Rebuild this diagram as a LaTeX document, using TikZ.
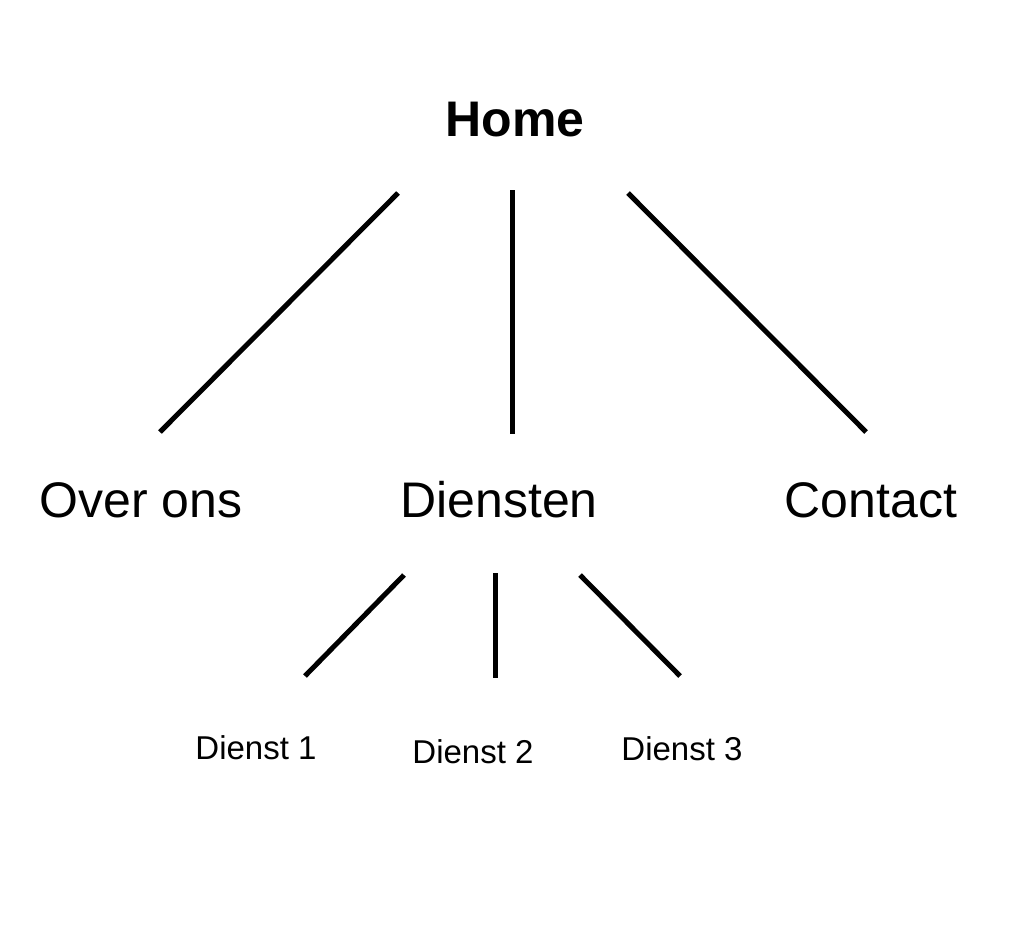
\documentclass[tikz,border=0pt]{standalone}
\usepackage{fontspec}
\setmainfont{Liberation Sans}
\begin{document}
\begin{tikzpicture}[x=1pt,y=-1pt,
  big/.style={font=\fontsize{50}{60}\selectfont, inner sep=0pt},
  small/.style={font=\fontsize{33}{40}\selectfont, inner sep=0pt},
  link/.style={line width=5pt}]
\useasboundingbox (0,0) rectangle (1024,926);
\node[big,font=\fontsize{50}{60}\selectfont\bfseries] (home) at (515,120) {Home};
\node[big] (over) at (141,500) {Over ons};
\node[big] (dien) at (499,500) {Diensten};
\node[big] (cont) at (871,500) {Contact};
\node[small] (d1) at (256,748) {Dienst 1};
\node[small] (d2) at (473,752) {Dienst 2};
\node[small] (d3) at (682,749) {Dienst 3};
\coordinate (a1) at (398,193); \coordinate (a2) at (160,432);
\coordinate (b1) at (512,190); \coordinate (b2) at (512,434);
\coordinate (c1) at (628,193); \coordinate (c2) at (866,432);
\coordinate (e1) at (404,575); \coordinate (e2) at (305,676);
\coordinate (f1) at (495,573); \coordinate (f2) at (495,678);
\coordinate (g1) at (580,575); \coordinate (g2) at (680,676);
\draw[link] (a1) -- (a2);
\draw[link] (b1) -- (b2);
\draw[link] (c1) -- (c2);
\draw[link] (e1) -- (e2);
\draw[link] (f1) -- (f2);
\draw[link] (g1) -- (g2);
\end{tikzpicture}
\end{document}
